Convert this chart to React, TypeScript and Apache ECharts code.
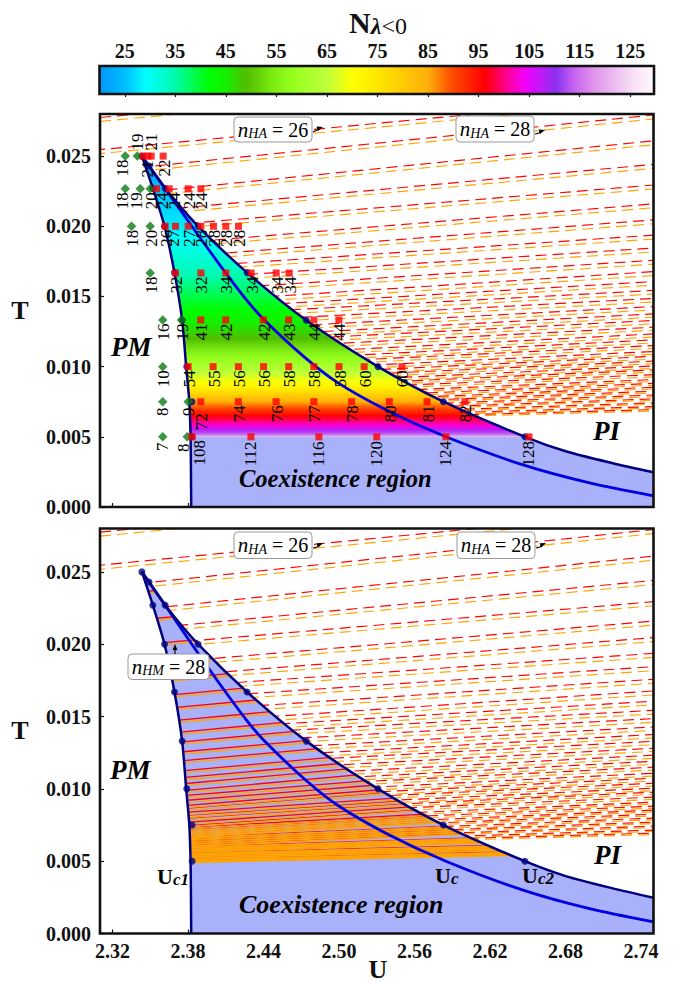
import React, { useEffect, useRef } from "react";
import * as echarts from "echarts";

// ---------- data ----------
const uTicks = [2.32, 2.38, 2.44, 2.5, 2.56, 2.62, 2.68, 2.74];
const tTicks = [0, 0.005, 0.01, 0.015, 0.02, 0.025];
const cbTicks = [25, 35, 45, 55, 65, 75, 85, 95, 105, 115, 125];

const uc1Curve: number[][] = [[2.3433,0.025],[2.352,0.0227],[2.3613,0.02],[2.3692,0.0167],[2.3753,0.0133],[2.3785,0.01],[2.381,0.0075],[2.382,0.005],[2.3823,0.0025],[2.3825,0]];
const uc2Curve: number[][] = [[2.3433,0.025],[2.349,0.0243],[2.3618,0.0227],[2.388,0.02],[2.4269,0.0167],[2.474,0.0133],[2.531,0.01],[2.583,0.0075],[2.6478,0.005],[2.6808,0.00395],[2.7176,0.00312],[2.75,0.00247]];
const ucCurve: number[][] = [[2.3433,0.025],[2.3618,0.0227],[2.383,0.02],[2.4081,0.0169],[2.4269,0.0147],[2.4398,0.0134],[2.4716,0.01075],[2.4983,0.0089],[2.538,0.0069],[2.585,0.005],[2.6463,0.003],[2.7,0.0017],[2.75,0.0008]];

const uc1Dots: number[][] = [[2.3433,0.025],[2.352,0.0227],[2.3613,0.02],[2.3692,0.0167],[2.3753,0.0133],[2.379,0.01],[2.3832,0.0075],[2.3832,0.005]];
const uc2Dots: number[][] = [[2.349,0.0243],[2.3618,0.0227],[2.388,0.02],[2.4269,0.0167],[2.474,0.0133],[2.531,0.01],[2.583,0.0075],[2.6478,0.005]];

// dashed n_HA lines outside the region: T of the red line at U = 2.3805 and at U = 2.75
const dashedLeftT = [0.02835,0.02606,0.02455,0.02275,0.02136,0.02021,0.01887,0.01789,0.01712,0.0163,0.01543,0.01462,0.0141,0.01366,0.01309,0.01251,0.01199,0.01159,0.01111,0.01063,0.01021,0.0099,0.00948,0.00914,0.00889,0.00855,0.00827,0.00803,0.00768,0.00741,0.00713,0.00695,0.00668,0.0065,0.00632,0.00615,0.00604];
const dashedRightT = [0.0315,0.0292,0.02793,0.02609,0.02441,0.02294,0.0216,0.02046,0.01937,0.01845,0.01758,0.01677,0.01606,0.01543,0.01486,0.01428,0.01376,0.01329,0.01281,0.01233,0.01191,0.0115,0.01108,0.01074,0.01039,0.01005,0.00977,0.00943,0.00908,0.00881,0.00853,0.00825,0.00798,0.0077,0.00742,0.00715,0.00694];
const dashedOrangeDrop = [0.00028,0.00028,0.00028,0.00028,0.00028,0.00028,0.00028,0.00028,0.00028,0.00028,0.00028,0.00028,0.00026,0.00026,0.00026,0.00024,0.00024,0.00024,0.00022,0.00022,0.00022,0.0002,0.0002,0.0002,0.00018,0.00018,0.00016,0.00016,0.00014,0.00014,0.00012,0.00012,0.00012,0.0001,0.0001,0.0001,0.0001];

// solid n_HM lines inside the region
const solidLeftT = [0.02393,0.022,0.02027,0.01889,0.01771,0.01661,0.01571,0.01481,0.01398,0.01329,0.0126,0.01198,0.01129,0.01081,0.01039,0.00991,0.00956,0.00922,0.00887,0.00867,0.00839,0.00818,0.00798,0.0077,0.00749,0.00735,0.00722,0.00708,0.00694,0.0068,0.00666,0.00653,0.00639,0.00625,0.00611,0.00601,0.0059,0.0058,0.0057,0.00559,0.00549,0.00539,0.00528,0.00518,0.00508,0.005];
const solidRightT = [0.02693,0.025,0.02327,0.02189,0.02071,0.01961,0.01871,0.01781,0.01698,0.01629,0.0155,0.01488,0.01419,0.01371,0.01329,0.01281,0.01216,0.01182,0.01147,0.01127,0.01059,0.01038,0.01018,0.0099,0.00969,0.00915,0.00902,0.00888,0.00874,0.0086,0.00806,0.00793,0.00779,0.00765,0.00751,0.00701,0.0069,0.0068,0.0067,0.00639,0.00629,0.00619,0.00608,0.00588,0.00578,0.0057];
const solidOrangeDrop = [0.00016,0.00016,0.00016,0.00016,0.00016,0.00016,0.00016,0.00016,0.00016,0.00016,0.00016,0.00016,0.00016,0.00016,0.00016,0.00016,0.00016,0.00016,0.00016,0.00016,0.00016,0.00016,0.00016,0.00016,0.00012,0.00012,0.00012,0.00012,0.00012,0.00012,0.00008,0.00008,0.00008,0.00008,0.00008,0.00008,0.00008,0.00008,0.00008,0.00008,0.00008,0.00008,0.00008,0.00008,0.00008,0.00008];

// N(lambda<0) field along T
const fieldT = [0.025,0.0227,0.02,0.0167,0.0143,0.012,0.01,0.0086,0.0075,0.0065,0.0057,0.0052,0.005];
const fieldN = [20.5,25,28,34,41,49,62,72,85,96,104,114,120];

// colour bar stops
const cmapN = [20,25,29.2,35,41.8,45,49,55,58.2,65,70,76,85,89.5,96.2,100,104.4,110.4,114,118,125,129.7];
const cmapRGB = [[0,150,255],[0,190,255],[0,255,255],[0,250,170],[0,255,0],[20,240,0],[80,190,0],[130,240,20],[150,255,30],[190,255,60],[255,255,0],[255,225,0],[255,175,10],[255,80,0],[255,0,0],[255,0,130],[240,0,255],[140,50,240],[200,100,240],[225,150,235],[245,220,245],[255,250,255]];

// [U, T, N]
const greenMarkers: number[][] = [
  [2.3301,0.025,18],[2.3396,0.025,19],
  [2.3301,0.02267,18],[2.342,0.02267,19],[2.3499,0.02267,20],
  [2.3351,0.02,18],[2.3499,0.02,20],
  [2.3499,0.01667,18],
  [2.3599,0.01333,16],[2.3748,0.01333,19],
  [2.3599,0.01,10],
  [2.3599,0.0075,8],[2.3801,0.0075,9],
  [2.3599,0.005,7],[2.3793,0.005,8],
];
const redMarkers: number[][] = [
  [2.3443,0.025,0],[2.3481,0.025,21],[2.3507,0.025,21],[2.3602,0.025,22],
  [2.3549,0.02267,24],[2.365,0.02267,24],[2.3801,0.02267,24],[2.3902,0.02267,24],
  [2.3618,0.02,26],[2.37,0.02,27],[2.3801,0.02,27],[2.3902,0.02,28],[2.4002,0.02,28],[2.41,0.02,28],[2.4201,0.02,28],
  [2.37,0.01667,32],[2.3902,0.01667,32],[2.41,0.01667,34],[2.4301,0.01667,34],[2.4501,0.01667,34],[2.4604,0.01667,34],
  [2.3901,0.01333,41],[2.4099,0.01333,42],[2.4398,0.01333,42],[2.4599,0.01333,43],[2.4801,0.01333,44],[2.4999,0.01333,44],
  [2.3801,0.01,54],[2.3999,0.01,55],[2.42,0.01,56],[2.44,0.01,56],[2.46,0.01,58],[2.48,0.01,58],[2.5,0.01,58],[2.52,0.01,60],[2.55,0.01,60],
  [2.3901,0.0075,72],[2.42,0.0075,74],[2.45,0.0075,76],[2.48,0.0075,77],[2.51,0.0075,78],[2.54,0.0075,80],[2.57,0.0075,81],[2.6,0.0075,82],
  [2.3832,0.005,108],[2.43,0.005,112],[2.484,0.005,116],[2.53,0.005,120],[2.585,0.005,124],[2.651,0.005,128],
];
// label shifts away from the default place, keyed by "N@U"
const labelShift: Record<string, number[]> = {
  "19@2.3396": [0,-14], "21@2.3507": [0,-14], "21@2.3481": [0,13],
  "18@2.3301": [-3,12], "19@2.342": [-4,12], "24@2.3549": [6,12], "24@2.365": [5,12],
  "27@2.37": [-2,12], "72@2.3901": [1,20], "8@2.3793": [-4,11], "108@2.3832": [7,16],
};

const FONT = "'Liberation Serif', serif";

// ---------- helpers ----------
function lerpAt(xs: number[], ys: number[], x: number) {
  for (let i = 1; i < xs.length; i++) {
    const a = xs[i - 1], b = xs[i];
    if ((x >= a && x <= b) || (x <= a && x >= b)) {
      const f = b === a ? 0 : (x - a) / (b - a);
      return ys[i - 1] + f * (ys[i] - ys[i - 1]);
    }
  }
  return x <= xs[0] === xs[0] <= xs[xs.length - 1] ? ys[0] : ys[ys.length - 1];
}
function colorOf(n: number) {
  const c = [0, 1, 2].map((k) => Math.round(lerpAt(cmapN, cmapRGB.map((r) => r[k]), n)));
  return `rgb(${c[0]},${c[1]},${c[2]})`;
}
function lineT(l: number, r: number, u: number) {
  return l + ((u - 2.3805) / (2.75 - 2.3805)) * (r - l);
}
function crossing(curve: number[][], l: number, r: number): number | null {
  for (let k = 1; k < curve.length; k++) {
    const [u0, t0] = curve[k - 1], [u1, t1] = curve[k];
    const d0 = t0 - lineT(l, r, u0), d1 = t1 - lineT(l, r, u1);
    if (d0 * d1 <= 0 && d0 !== d1) return u0 + (u1 - u0) * (d0 / (d0 - d1));
  }
  return null;
}

function polySeries(xi: number, pts: number[][], fill: any, z: number) {
  return {
    type: "custom", xAxisIndex: xi, yAxisIndex: xi, z, clip: true, silent: true,
    data: [pts[0]],
    renderItem: (_: any, api: any) => ({
      type: "polygon",
      shape: { points: pts.map((p) => api.coord(p)) },
      style: { fill, stroke: "none" },
    }),
  };
}

function levelSeries(xi: number, withSolid: boolean) {
  const out: any[] = [];
  const seg = (d: number[][], lineStyle: any) =>
    out.push({
      type: "line", xAxisIndex: xi, yAxisIndex: xi, z: 3, silent: true, symbol: "none",
      data: d, lineStyle: { cap: "butt", ...lineStyle },
    });
  [{ color: "#ff0000", o: false }, { color: "#ffa500", o: true }].forEach(({ color, o }) => {
    dashedLeftT.forEach((lv, i) => {
      const drop = o ? dashedOrangeDrop[i] : 0;
      const l = lv - drop, r = dashedRightT[i] - drop;
      const b = crossing(uc2Curve, l, r);
      const s = b != null ? b : 2.31;
      // dash phase anchored to the plot, shifted row by row
      const phase = (((s - 2.31) * 1258 + i * 6.3) % 17 + 17) % 17;
      seg([[s, lineT(l, r, s)], [2.75, lineT(l, r, 2.75)]], { color, width: 1.15, type: [11, 6], dashOffset: phase });
    });
    if (withSolid) {
      solidLeftT.forEach((lv, i) => {
        const drop = o ? solidOrangeDrop[i] : 0;
        const l = lv - drop, r = solidRightT[i] - drop;
        const a = crossing(uc1Curve, l, r);
        const b = crossing(uc2Curve, l, r);
        const dense = i >= 27;
        if (a != null && b != null) seg([[a, lineT(l, r, a)], [b, lineT(l, r, b)]], { color, width: dense ? (o ? 1.7 : 0.8) : 1.3, type: "solid" });
      });
    }
  });
  return out;
}

function curveSeries(xi: number) {
  const mk = (d: number[][], color: string, width: number) => ({
    type: "line", xAxisIndex: xi, yAxisIndex: xi, z: 4, silent: true, symbol: "none", smooth: 0.25, data: d,
    lineStyle: { color, width },
  });
  return [
    mk(ucCurve, "#0000e0", 2.8),
    mk(uc1Curve, "#00007e", 2.5),
    mk(uc2Curve, "#00007e", 2.5),
    {
      type: "scatter", xAxisIndex: xi, yAxisIndex: xi, z: 5, silent: true, symbol: "circle", symbolSize: 7,
      itemStyle: { color: "#00007e" }, data: [...uc1Dots, ...uc2Dots],
    },
  ];
}

function markerLabels(xi: number) {
  const all = [...greenMarkers, ...redMarkers].filter((m) => m[2] > 0);
  return {
    type: "custom", xAxisIndex: xi, yAxisIndex: xi, z: 7, clip: false, silent: true,
    data: all.map((m) => [m[0], m[1], m[2]]),
    renderItem: (_: any, api: any) => {
      const u = api.value(0), t = api.value(1), n = api.value(2);
      const p = api.coord([u, t]);
      const digits = String(n).length;
      const key = `${n}@${u}`;
      const [dx, dy] = labelShift[key] || [digits === 2 ? 1 : 0, digits === 1 ? 10 : digits === 2 ? 12 : 17];
      return {
        type: "text", x: p[0] + dx, y: p[1] + dy, rotation: Math.PI / 2,
        style: { text: String(n), fontFamily: FONT, fontSize: 17, fill: "#000", align: "center", verticalAlign: "middle" },
      };
    },
  };
}

function richMath(name: string, value: string) {
  return {
    text: `{n|n}{s|${name}}{r| = ${value}}`,
    rich: {
      n: { fontFamily: FONT, fontStyle: "italic", fontSize: 21, fill: "#000", lineHeight: 22 },
      s: { fontFamily: FONT, fontStyle: "italic", fontSize: 14, fill: "#000", verticalAlign: "bottom", lineHeight: 22 },
      r: { fontFamily: FONT, fontSize: 20, fill: "#000", lineHeight: 22 },
    },
  };
}
function box(x: number, y: number, w: number, h: number, name: string, value: string) {
  return [
    { type: "rect", z: 60, shape: { x, y, width: w, height: h, r: 4 }, style: { fill: "#fff", stroke: "#999", lineWidth: 1 } },
    { type: "text", z: 61, x: x + w / 2, y: y + h / 2, style: { ...richMath(name, value), align: "center", verticalAlign: "middle" } },
  ];
}
function arrow(pts: number[][], tip: number[], angle: number) {
  const l = 6, w = 2.4;
  const bx = tip[0] - l * Math.cos(angle), by = tip[1] - l * Math.sin(angle);
  return [
    { type: "polyline", z: 60, shape: { points: pts }, style: { stroke: "#000", lineWidth: 1.1, fill: "none" } },
    { type: "polygon", z: 60, shape: { points: [tip, [bx - w * Math.sin(angle), by + w * Math.cos(angle)], [bx + w * Math.sin(angle), by - w * Math.cos(angle)]] }, style: { fill: "#000" } },
  ];
}
function label(x: number, y: number, text: string, fontSize: number) {
  return {
    type: "text", z: 61, x, y,
    style: { text, fontFamily: FONT, fontSize, fontStyle: "italic", fontWeight: "bold", fill: "#000", align: "left", verticalAlign: "middle" },
  };
}
function subLabel(x: number, y: number, sub: string) {
  return {
    type: "text", z: 61, x, y,
    style: {
      text: `{a|U}{b|${sub}}`, align: "left", verticalAlign: "middle",
      rich: {
        a: { fontFamily: FONT, fontWeight: "bold", fontSize: 22, fill: "#000", lineHeight: 24 },
        b: { fontFamily: FONT, fontStyle: "italic", fontWeight: "bold", fontSize: 17, fill: "#000", verticalAlign: "bottom", lineHeight: 24 },
      },
    },
  };
}

export default function App() {
  const ref = useRef<HTMLDivElement>(null);
  useEffect(() => {
    const chart = echarts.init(ref.current!, null, { renderer: "svg" });

    const G = [
      { left: 100, top: 114, width: 553.5, height: 393 },
      { left: 100, top: 528.5, width: 553.5, height: 405 },
      { left: 99.5, top: 66, width: 554.5, height: 28 },
    ];

    const regionUpper = uc1Curve.filter((p) => p[1] >= 0.005);
    const regionRight = uc2Curve.filter((p) => p[1] >= 0.005);
    const fieldPoly = [...regionUpper, ...regionRight.slice().reverse()];
    const stops: any[] = [];
    for (let k = 0; k <= 80; k++) {
      const t = 0.025 - (k / 80) * 0.02;
      stops.push({ offset: k / 80, color: colorOf(lerpAt(fieldT, fieldN, t)) });
    }
    const fieldFill = new echarts.graphic.LinearGradient(0, 0, 0, 1, stops);

    const COEX = "#a9b1fb";
    const lowLeft = uc1Curve.filter((p) => p[1] <= 0.005);
    const lowRight = uc2Curve.filter((p) => p[1] <= 0.005);
    const lowPoly = [...lowLeft, [2.75, 0], ...lowRight.slice().reverse()];
    const fullPoly = [...uc1Curve, [2.75, 0], ...uc2Curve.slice().reverse()];

    const cbStops: any[] = [];
    cmapN.forEach((n) => cbStops.push({ offset: (n - 20) / (129.7 - 20), color: colorOf(n) }));

    const axisFont = { fontFamily: FONT, fontWeight: "bold", fontSize: 20, color: "#111" };
    const xAx = (i: number, labels: boolean) => ({
      gridIndex: i, type: "value", min: 2.31, max: 2.75,
      axisLine: { show: false }, splitLine: { show: false },
      axisTick: { show: true, inside: true, length: 4, customValues: uTicks, lineStyle: { color: "#111", width: 1.2 } },
      axisLabel: { show: labels, customValues: uTicks, formatter: (v: number) => v.toFixed(2), margin: 7, ...axisFont },
    });
    const yAx = (i: number) => ({
      gridIndex: i, type: "value", min: 0, max: 0.028,
      axisLine: { show: false }, splitLine: { show: false },
      axisTick: { show: true, inside: true, length: 4, customValues: tTicks, lineStyle: { color: "#111", width: 1.2 } },
      axisLabel: { show: true, customValues: tTicks, formatter: (v: number) => v.toFixed(3), margin: 9, ...axisFont },
    });

    const scatter = (xi: number, data: number[][], symbol: string, size: number, color: string, z: number) => ({
      type: "scatter", xAxisIndex: xi, yAxisIndex: xi, z, silent: true, symbol, symbolSize: size,
      itemStyle: { color }, data: data.map((m) => [m[0], m[1]]),
    });

    const frame = (g: any, w: number) => ({
      type: "rect", z: 90, shape: { x: g.left, y: g.top, width: g.width, height: g.height },
      style: { fill: "none", stroke: "#111", lineWidth: w },
    });

    const option: any = {
      animation: false,
      grid: G.map((g) => ({ ...g, containLabel: false })),
      xAxis: [
        xAx(0, false),
        xAx(1, true),
        {
          gridIndex: 2, type: "value", position: "top", min: 20, max: 129.7,
          axisLine: { show: false }, splitLine: { show: false },
          axisTick: { show: true, inside: true, length: 3, customValues: cbTicks, lineStyle: { color: "#111", width: 1.2 } },
          axisLabel: { show: true, customValues: cbTicks, margin: 5, ...axisFont },
        },
      ],
      yAxis: [yAx(0), yAx(1), { gridIndex: 2, type: "value", min: 0, max: 1, show: false }],
      series: [
        polySeries(2, [[20, 0], [20, 1], [129.7, 1], [129.7, 0]], new echarts.graphic.LinearGradient(0, 0, 1, 0, cbStops), 1),
        polySeries(0, lowPoly, COEX, 1),
        polySeries(0, fieldPoly, fieldFill, 2),
        ...levelSeries(0, false),
        ...curveSeries(0),
        scatter(0, greenMarkers, "diamond", 9.5, "#0a7a14", 6),
        scatter(0, redMarkers, "rect", 7, "#ff0000", 6),
        markerLabels(0),
        polySeries(1, fullPoly, COEX, 1),
        ...levelSeries(1, true),
        ...curveSeries(1),
      ],
      graphic: [
        frame(G[0], 2.6), frame(G[1], 2.6), frame(G[2], 2.6),
        {
          type: "text", z: 61, x: 378, y: 22,
          style: {
            text: "{a|N}{b|λ}{c|<0}", align: "center", verticalAlign: "middle",
            rich: {
              a: { fontFamily: FONT, fontWeight: "bold", fontSize: 30, fill: "#111", lineHeight: 32 },
              b: { fontFamily: FONT, fontStyle: "italic", fontWeight: "bold", fontSize: 24, fill: "#111", verticalAlign: "bottom", lineHeight: 32 },
              c: { fontFamily: FONT, fontSize: 24, fill: "#111", verticalAlign: "bottom", lineHeight: 32 },
            },
          },
        },
        ...box(234, 117, 78, 25, "HA", "26"),
        ...arrow([[313, 132], [317, 130], [319, 128]], [323, 127], -0.3),
        ...box(456, 116, 78, 26, "HA", "28"),
        ...arrow([[535, 134], [539, 133], [541, 131]], [545, 130], -0.3),
        label(111, 347, "PM", 27), label(593, 431, "PI", 27),
        label(239, 478, "Coexistence region", 24.5),
        ...box(234, 532, 78, 26.5, "HA", "26"),
        ...arrow([[313, 548], [317, 547], [319, 544]], [323, 543], -0.4),
        ...box(457, 532, 78, 26.5, "HA", "28"),
        ...arrow([[536, 548], [540, 547], [542, 544]], [546, 543], -0.4),
        ...box(128, 654, 81, 25.5, "HM", "28"),
        ...arrow([[175, 654], [175, 648]], [175, 644], -Math.PI / 2),
        label(110, 770, "PM", 27), label(594, 855, "PI", 27),
        label(239, 904, "Coexistence region", 26),
        subLabel(157, 876, "c1"), subLabel(435, 875, "c"), subLabel(522, 875, "c2"),
        { type: "text", z: 61, x: 20, y: 310, style: { text: "T", fontFamily: FONT, fontWeight: "bold", fontSize: 26, fill: "#111", align: "center", verticalAlign: "middle" } },
        { type: "text", z: 61, x: 20, y: 730, style: { text: "T", fontFamily: FONT, fontWeight: "bold", fontSize: 26, fill: "#111", align: "center", verticalAlign: "middle" } },
        { type: "text", z: 61, x: 378, y: 969, style: { text: "U", fontFamily: FONT, fontWeight: "bold", fontSize: 26, fill: "#111", align: "center", verticalAlign: "middle" } },
      ],
    };
    chart.setOption(option);
    return () => chart.dispose();
  }, []);
  return <div ref={ref} style={{ position: "absolute", left: 0, top: 0, width: 676, height: 983 }} />;
}
